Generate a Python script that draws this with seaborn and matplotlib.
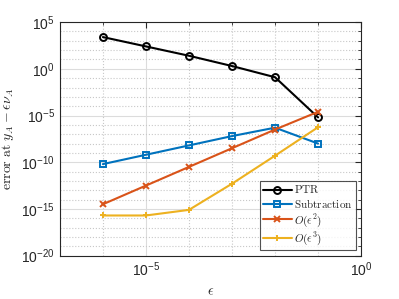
import numpy as np
import pandas as pd
import matplotlib
matplotlib.use('Agg')
import matplotlib.pyplot as plt
import matplotlib.ticker as mticker
import seaborn as sns

# Datos (exponentes base 10)
eps = [1e-6, 1e-5, 1e-4, 1e-3, 1e-2, 1e-1]
ptr_exp = [3.4, 2.4, 1.4, 0.3, -0.9, -5.2]
sub_exp = [-10.2, -9.2, -8.2, -7.2, -6.3, -8.0]
eps2_exp = [-14.5, -12.5, -10.5, -8.5, -6.5, -4.6]
eps3_exp = [-15.7, -15.7, -15.1, -12.3, -9.3, -6.25]

labels = [r'$\mathrm{PTR}$', r'$\mathrm{Subtraction}$', r'$O(\epsilon^2)$', r'$O(\epsilon^3)$']
series = [ptr_exp, sub_exp, eps2_exp, eps3_exp]
colors = ['black', '#0072BD', '#D95319', '#EDB120']
markers = ['o', 's', 'x', '+']
msizes = [5, 4, 4, 5]

sns.set_style('white')
plt.rcParams['mathtext.fontset'] = 'cm'
plt.rcParams['font.family'] = ['Liberation Sans', 'DejaVu Sans']

fig, ax = plt.subplots(figsize=(3.99, 2.99), dpi=100)
fig.subplots_adjust(left=0.15, right=0.905, top=0.926, bottom=0.145)

for lab, s, c, m, ms in zip(labels, series, colors, markers, msizes):
    df = pd.DataFrame({'eps': eps, 'err': [10.0 ** v for v in s]})
    sns.lineplot(data=df, x='eps', y='err', ax=ax, color=c, marker=m,
                 markersize=ms, markerfacecolor='none', markeredgecolor=c,
                 markeredgewidth=1.4, linewidth=1.5, label=lab)

ax.set_xscale('log')
ax.set_yscale('log')
ax.set_xlim(1e-7, 1)
ax.set_ylim(1e-20, 1e5)

ax.xaxis.set_major_locator(mticker.FixedLocator([1e-5, 1e0]))
ax.xaxis.set_minor_locator(mticker.FixedLocator([10.0 ** k for k in range(-7, 1)]))
ax.xaxis.set_minor_formatter(mticker.NullFormatter())
ax.yaxis.set_major_locator(mticker.FixedLocator([10.0 ** k for k in range(-20, 6, 5)]))
ax.yaxis.set_minor_locator(mticker.FixedLocator([10.0 ** k for k in range(-20, 6)]))
ax.yaxis.set_minor_formatter(mticker.NullFormatter())

ax.grid(True, which='major', color='#dcdcdc', linestyle='-', linewidth=0.8)
ax.grid(True, which='minor', color='#c8c8c8', linestyle=':', linewidth=0.8)
ax.set_axisbelow(True)

ax.tick_params(which='both', direction='in', top=True, right=True,
               labelsize=10, colors='#262626')
ax.tick_params(which='major', length=4)
ax.tick_params(which='minor', length=2.5)
for sp in ax.spines.values():
    sp.set_color('#262626')
    sp.set_linewidth(0.8)

ax.set_xlabel(r'$\epsilon$', fontsize=10, color='#262626')
ax.set_ylabel(r'$\mathrm{error\ at\ }y_A - \epsilon\nu_A$', fontsize=10, color='#262626')

leg = ax.legend(loc='lower right', fontsize=8, frameon=True, fancybox=False,
                borderpad=0.25, labelspacing=0.15, handlelength=2.6,
                handletextpad=0.2, borderaxespad=0.5)
leg.get_frame().set_edgecolor('#262626')
leg.get_frame().set_linewidth(0.8)

fig.savefig('out.png', dpi=100)
